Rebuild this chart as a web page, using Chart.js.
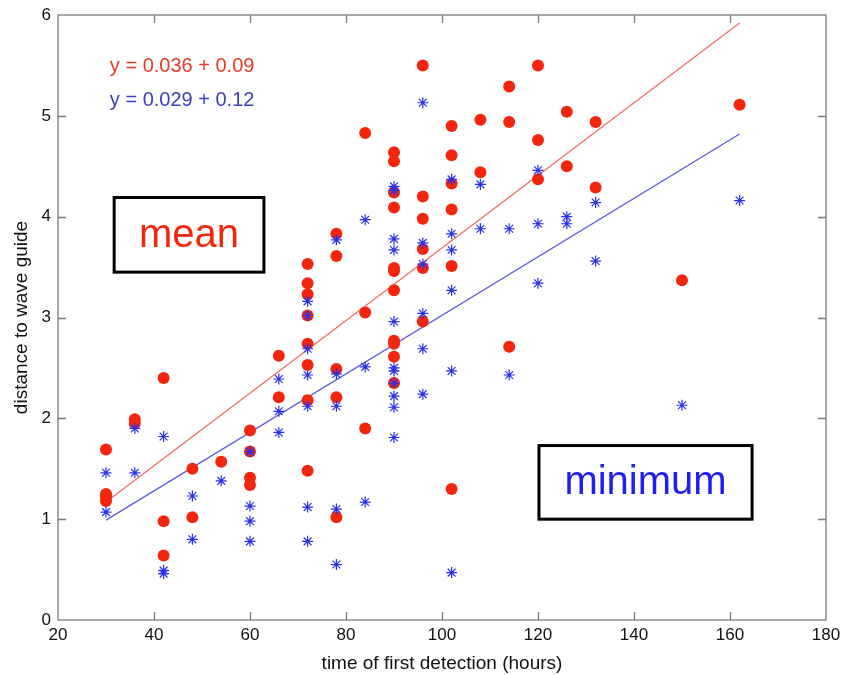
<!DOCTYPE html>
<html lang="en">

<head>
    <meta charset="UTF-8">
    <title>distance to wave guide vs time of first detection</title>
    <script src="https://cdn.jsdelivr.net/npm/chart.js"></script>
    <style>
        body { margin: 0; background: #fff; }
        #wrap { width: 841px; height: 675px; }
    </style>
</head>

<body>
    <div id="wrap"><canvas id="myChart" width="841" height="675"></canvas></div>
    <script>
        // mean distance (red dots)
        const meanX = [30, 30, 30, 30, 36, 36, 42, 42, 42, 48, 48, 54, 60, 60, 60, 60, 66, 66,
            72, 72, 72, 72, 72, 72, 72, 72, 78, 78, 78, 78, 78, 84, 84, 84,
            90, 90, 90, 90, 90, 90, 90, 90, 90, 90, 90, 96, 96, 96, 96, 96, 96,
            102, 102, 102, 102, 102, 102, 108, 108, 114, 114, 114, 120, 120, 120,
            126, 126, 132, 132, 150, 162];
        const meanY = [1.69, 1.25, 1.22, 1.18, 1.99, 1.95, 2.40, 0.98, 0.64, 1.50, 1.02, 1.57,
            1.88, 1.67, 1.41, 1.34, 2.62, 2.21,
            3.53, 3.34, 3.23, 3.02, 2.74, 2.53, 2.18, 1.48, 3.83, 3.61, 2.49, 2.21, 1.02, 4.83, 3.05, 1.90,
            4.64, 4.55, 4.24, 4.09, 3.49, 3.46, 3.27, 2.77, 2.74, 2.61, 2.35, 5.50, 4.20, 3.98, 3.68, 3.49, 2.96,
            4.90, 4.61, 4.33, 4.07, 3.51, 1.30, 4.96, 4.44, 5.29, 4.94, 2.71, 5.50, 4.76, 4.37,
            5.04, 4.50, 4.94, 4.29, 3.37, 5.11];

        // minimum distance (blue stars)
        const minX = [30, 30, 36, 36, 42, 42, 42, 48, 48, 54, 60, 60, 60, 60, 66, 66, 66,
            72, 72, 72, 72, 72, 72, 72, 78, 78, 78, 78, 78, 84, 84, 84,
            90, 90, 90, 90, 90, 90, 90, 90, 90, 90, 90, 96, 96, 96, 96, 96, 96,
            102, 102, 102, 102, 102, 102, 108, 108, 114, 114, 120, 120, 120,
            126, 126, 132, 132, 150, 162];
        const minY = [1.46, 1.07, 1.90, 1.46, 1.82, 0.49, 0.46, 1.23, 0.80, 1.38, 1.67, 1.13, 0.98, 0.78,
            2.39, 2.07, 1.86,
            3.16, 3.02, 2.69, 2.43, 2.12, 1.12, 0.78, 3.77, 2.44, 2.12, 1.10, 0.55, 3.97, 2.51, 1.17,
            4.30, 4.26, 3.78, 3.67, 2.96, 2.50, 2.47, 2.35, 2.22, 2.11, 1.81, 5.13, 3.74, 3.53, 3.04, 2.69, 2.24,
            4.37, 3.83, 3.67, 3.27, 2.47, 0.47, 4.32, 3.88, 3.88, 2.43, 4.46, 3.93, 3.34,
            4.00, 3.93, 4.14, 3.56, 2.13, 4.16];

        // fitted lines, end points
        const fitX = [30, 162];
        const meanFit = [1.17, 5.92];
        const minFit = [0.99, 4.82];

        const xTicks = [20, 40, 60, 80, 100, 120, 140, 160, 180];
        const yTicks = [0, 1, 2, 3, 4, 5, 6];

        const RED = 'rgb(242, 38, 12)';
        const BLUE = 'rgb(40, 48, 235)';
        const FONT = "'Liberation Sans', Arial, sans-serif";

        const pts = (xs, ys) => xs.map((x, i) => ({ x: x, y: ys[i] }));

        // matlab-like frame with inward ticks + text annotations
        const framePlugin = {
            id: 'frame',
            afterDatasetsDraw(chart) {
                const { ctx, chartArea: a, scales: { x, y } } = chart;
                ctx.save();
                ctx.strokeStyle = '#7a7a7a';
                ctx.lineWidth = 1.3;
                ctx.strokeRect(a.left, a.top, a.right - a.left, a.bottom - a.top);
                ctx.beginPath();
                const tl = 8;
                xTicks.slice(1, -1).forEach(v => {
                    const px = Math.round(x.getPixelForValue(v)) + 0.5;
                    ctx.moveTo(px, a.bottom); ctx.lineTo(px, a.bottom - tl);
                    ctx.moveTo(px, a.top); ctx.lineTo(px, a.top + tl);
                });
                yTicks.slice(1, -1).forEach(v => {
                    const py = Math.round(y.getPixelForValue(v)) + 0.5;
                    ctx.moveTo(a.left, py); ctx.lineTo(a.left + tl, py);
                    ctx.moveTo(a.right, py); ctx.lineTo(a.right - tl, py);
                });
                ctx.stroke();

                // equations
                ctx.font = '20px ' + FONT;
                ctx.textBaseline = 'middle';
                ctx.textAlign = 'left';
                ctx.fillStyle = 'rgb(232, 58, 38)';
                ctx.fillText('y = 0.036 + 0.09', x.getPixelForValue(30.8), y.getPixelForValue(5.49));
                ctx.fillStyle = 'rgb(62, 62, 190)';
                ctx.fillText('y = 0.029 + 0.12', x.getPixelForValue(30.8), y.getPixelForValue(5.15));

                // labelled boxes
                const box = (x0, x1, y0, y1, text, color) => {
                    const l = x.getPixelForValue(x0), r = x.getPixelForValue(x1);
                    const t = y.getPixelForValue(y0), b = y.getPixelForValue(y1);
                    ctx.fillStyle = '#fff';
                    ctx.fillRect(l, t, r - l, b - t);
                    ctx.strokeStyle = '#000';
                    ctx.lineWidth = 3;
                    ctx.strokeRect(l, t, r - l, b - t);
                    ctx.fillStyle = color;
                    ctx.font = '40px ' + FONT;
                    ctx.textAlign = 'center';
                    ctx.fillText(text, (l + r) / 2, (t + b) / 2 + 1);
                };
                box(31.7, 62.9, 4.19, 3.45, 'mean', RED);
                box(120.2, 164.6, 1.73, 1.0, 'minimum', 'rgb(30, 30, 245)');
                ctx.restore();
            }
        };

        const data = {
            datasets: [{
                label: 'minimum',
                data: pts(minX, minY),
                pointStyle: 'star',
                pointRadius: 5.5,
                borderColor: BLUE,
                backgroundColor: BLUE,
                pointBorderWidth: 1.2,
                order: 0
            }, {
                label: 'mean',
                data: pts(meanX, meanY),
                pointRadius: 6,
                backgroundColor: RED,
                borderColor: RED,
                pointBorderWidth: 0,
                order: 1
            }, {
                type: 'line',
                label: 'mean fit',
                data: pts(fitX, meanFit),
                borderColor: 'rgb(238, 110, 100)',
                borderWidth: 1.3,
                pointRadius: 0,
                order: 2
            }, {
                type: 'line',
                label: 'minimum fit',
                data: pts(fitX, minFit),
                borderColor: 'rgb(92, 92, 222)',
                borderWidth: 1.3,
                pointRadius: 0,
                order: 2
            }]
        };

        const config = {
            type: 'scatter',
            data: data,
            options: {
                responsive: false,
                animation: false,
                layout: { autoPadding: false, padding: { top: 15, right: 15, left: 0, bottom: 0 } },
                plugins: { legend: { display: false }, tooltip: { enabled: false } },
                scales: {
                    x: {
                        type: 'linear',
                        min: 20, max: 180,
                        afterFit: s => { s.height = 55; s.paddingLeft = 0; s.paddingRight = 0; },
                        afterBuildTicks: s => { s.ticks = xTicks.map(v => ({ value: v })); },
                        grid: { display: false, drawTicks: false },
                        border: { display: false },
                        ticks: { color: '#111', padding: 5, font: { family: FONT, size: 17 } },
                        title: {
                            display: true, text: 'time of first detection (hours)', color: '#111',
                            font: { family: FONT, size: 19 }, padding: { top: 0, bottom: 0 }
                        }
                    },
                    y: {
                        type: 'linear',
                        min: 0, max: 6,
                        afterFit: s => { s.width = 58; s.paddingTop = 0; s.paddingBottom = 0; },
                        afterBuildTicks: s => { s.ticks = yTicks.map(v => ({ value: v })); },
                        grid: { display: false, drawTicks: false },
                        border: { display: false },
                        ticks: { color: '#111', padding: 7, font: { family: FONT, size: 17 } },
                        title: {
                            display: true, text: 'distance to wave guide', color: '#111',
                            font: { family: FONT, size: 19 }, padding: { top: 10, bottom: 0 }
                        }
                    }
                }
            },
            plugins: [framePlugin]
        };

        const myChart = new Chart(document.getElementById('myChart'), config);
    </script>
</body>

</html>
